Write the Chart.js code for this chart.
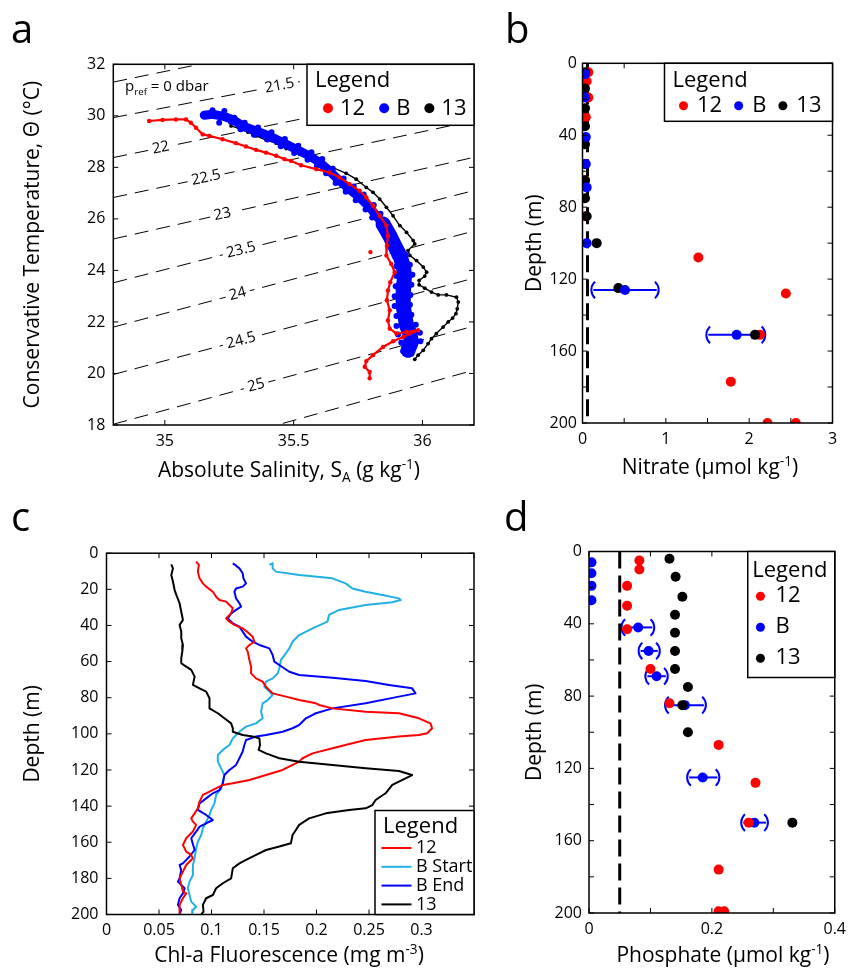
<!DOCTYPE html>
<html>
<head>
<meta charset="utf-8">
<title>T-S, nutrient and chlorophyll profiles</title>
<script src="https://cdn.jsdelivr.net/npm/chart.js@4.4.1/dist/chart.umd.min.js"></script>
<style>
  body { margin: 0; background: #fff; }
  #fig { position: relative; width: 853px; height: 973px; overflow: hidden; font-family: 'Open Sans', sans-serif; color: #000; }
  #fig canvas { position: absolute; left: 0; top: 0; }
  .txt { position: absolute; white-space: nowrap; line-height: 1; }
  .letter { font-size: 40px; }
  .xtitle { font-size: 21px; transform: translateX(-50%); }
  .txt sub, .txt sup { font-size: 0.65em; line-height: 0; }
  .pref { font-size: 15px; }
</style>
</head>
<body>
<div id="fig">
  <canvas id="chartTS" width="853" height="973"></canvas>
  <canvas id="chartNitrate" width="853" height="973"></canvas>
  <canvas id="chartChl" width="853" height="973"></canvas>
  <canvas id="chartPhos" width="853" height="973"></canvas>

  <div class="txt letter" style="left:11px;top:8px">a</div>
  <div class="txt letter" style="left:505px;top:8px">b</div>
  <div class="txt letter" style="left:11px;top:496px">c</div>
  <div class="txt letter" style="left:504px;top:496px">d</div>

  <div class="txt pref" style="left:125px;top:78px">p<sub>ref</sub> = 0 dbar</div>
  <div class="txt xtitle" style="left:289px;top:459px">Absolute Salinity, S<sub>A</sub> (g kg<sup>-1</sup>)</div>
  <div class="txt xtitle" style="left:710px;top:456px">Nitrate (μmol kg<sup>-1</sup>)</div>
  <div class="txt xtitle" style="left:289px;top:944px">Chl-a Fluorescence (mg m<sup>-3</sup>)</div>
  <div class="txt xtitle" style="left:723px;top:944px">Phosphate (μmol kg<sup>-1</sup>)</div>
</div>

<script>
const FONT = "'Open Sans', sans-serif";
const FIG_W = 853, FIG_H = 973;

// ---------- a: T-S diagram ----------
const salLimits = [34.8, 36.2];
const tempLimits = [18, 32];
const salTicks = [35, 35.5, 36];
const tempTicks = [18, 20, 22, 24, 26, 28, 30, 32];

// isopycnals (sigma0), temperature where each meets the left and right salinity limits
const sigmaValues = [21, 21.5, 22, 22.5, 23, 23.5, 24, 24.5, 25, 25.5];
const sigmaTempLeft = [31.31, 29.93, 28.38, 26.83, 25.22, 23.52, 21.80, 19.96, 18.03, 16.23];
const sigmaTempRight = [34.20, 32.63, 31.26, 29.81, 28.39, 27.10, 25.53, 23.70, 21.84, 20.13];
const sigmaLabelSal = [null, 35.445, 34.984, 35.16, 35.224, 35.296, 35.283, 35.296, 35.354, null];
const sigmaLabelTemp = [null, 31.17, 28.76, 27.60, 26.18, 24.79, 23.09, 21.28, 19.54, null];

const ts12Sal = [34.939, 34.991, 35.043, 35.082, 35.101, 35.121, 35.147, 35.173, 35.224, 35.276, 35.315, 35.354, 35.393, 35.432, 35.464, 35.490, 35.529, 35.588, 35.639, 35.678, 35.717, 35.756, 35.782, 35.808, 35.834, 35.860, 35.866, 35.862, 35.860, 35.879, 35.892, 35.875, 35.866, 35.862, 35.873, 35.866, 35.873, 35.899, 35.938, 35.983, 35.925, 35.886, 35.847, 35.808, 35.782, 35.776, 35.795, 35.795];
const ts12Temp = [29.80, 29.84, 29.86, 29.86, 29.73, 29.54, 29.28, 29.22, 29.09, 28.94, 28.81, 28.68, 28.57, 28.45, 28.32, 28.25, 28.08, 27.93, 27.80, 27.61, 27.35, 27.09, 26.83, 26.51, 26.12, 25.74, 25.35, 24.96, 24.58, 24.25, 23.93, 23.54, 23.22, 22.84, 22.45, 22.06, 21.74, 21.55, 21.61, 21.68, 21.42, 21.25, 21.03, 20.71, 20.48, 20.26, 20.06, 19.81];
const ts12StraySal = [35.798];
const ts12StrayTemp = [24.71];

// cast B: centre of the dense band (upper, narrower part and lower, wider part) ...
const tsBUpperSal = [35.153, 35.185, 35.224, 35.263, 35.302, 35.354, 35.406, 35.458, 35.510, 35.562, 35.601, 35.639, 35.678, 35.717, 35.756, 35.795, 35.821, 35.847];
const tsBUpperTemp = [30.02, 30.06, 29.99, 29.86, 29.61, 29.41, 29.22, 28.96, 28.70, 28.44, 28.19, 27.86, 27.48, 27.15, 26.83, 26.45, 26.12, 25.80];
const tsBLowerSal = [35.847, 35.873, 35.892, 35.912, 35.925, 35.931, 35.927, 35.925, 35.925, 35.931, 35.938, 35.951, 35.957, 35.944];
const tsBLowerTemp = [25.80, 25.35, 24.96, 24.58, 24.19, 23.80, 23.42, 23.03, 22.64, 22.26, 21.87, 21.55, 21.22, 20.90];
// ... and samples along its ragged edges
const tsBEdgeSal = [35.153, 35.185, 35.211, 35.231, 35.257, 35.270, 35.294, 35.310, 35.346, 35.362, 35.398, 35.414, 35.450, 35.466, 35.502, 35.518, 35.554, 35.569, 35.590, 35.611, 35.626, 35.652, 35.663, 35.694, 35.702, 35.733, 35.741, 35.772, 35.779, 35.811, 35.805, 35.837, 35.831, 35.862, 35.857, 35.888, 35.877, 35.908, 35.892, 35.935, 35.899, 35.951, 35.899, 35.961, 35.896, 35.957, 35.892, 35.953, 35.892, 35.951, 35.899, 35.957, 35.899, 35.974, 35.905, 35.990, 35.918, 35.992, 35.925, 35.957];
const tsBEdgeTemp = [29.99, 30.22, 29.73, 30.19, 29.76, 29.93, 29.48, 29.73, 29.27, 29.55, 29.08, 29.36, 28.82, 29.10, 28.56, 28.84, 28.30, 28.59, 28.06, 28.32, 27.77, 27.95, 27.39, 27.57, 27.05, 27.26, 26.72, 26.95, 26.36, 26.54, 26.05, 26.20, 25.74, 25.87, 25.31, 25.39, 24.94, 24.99, 24.55, 24.60, 24.16, 24.22, 23.78, 23.83, 23.39, 23.44, 23.00, 23.05, 22.62, 22.67, 22.23, 22.28, 21.84, 21.89, 21.51, 21.58, 21.20, 21.25, 20.86, 20.77];

const ts13Sal = [35.257, 35.289, 35.322, 35.354, 35.393, 35.432, 35.471, 35.523, 35.562, 35.601, 35.652, 35.704, 35.743, 35.782, 35.808, 35.834, 35.860, 35.886, 35.912, 35.938, 35.964, 35.970, 35.944, 35.951, 35.977, 36.003, 36.016, 36.009, 35.987, 35.987, 36.009, 36.035, 36.061, 36.093, 36.132, 36.139, 36.135, 36.130, 36.117, 36.100, 36.080, 36.054, 36.035, 36.022, 36.003, 35.983, 35.970];
const ts13Temp = [29.61, 29.50, 29.37, 29.22, 29.06, 28.94, 28.73, 28.51, 28.34, 28.19, 27.99, 27.77, 27.54, 27.22, 27.03, 26.77, 26.45, 26.12, 25.74, 25.48, 25.16, 25.03, 24.77, 24.58, 24.38, 24.13, 23.93, 23.78, 23.61, 23.44, 23.31, 23.16, 23.05, 23.05, 22.96, 22.77, 22.51, 22.32, 22.15, 22.00, 21.80, 21.55, 21.35, 21.16, 20.90, 20.71, 20.55];

// ---------- shared depth axis ----------
const depthLimits = [0, 200];
const depthTicks = [0, 20, 40, 60, 80, 100, 120, 140, 160, 180, 200];
const depthLabelsEvery40 = [0, 40, 80, 120, 160, 200];

// ---------- b: nitrate ----------
const nitrateLimits = [0, 3];
const nitrateTicks = [0, 0.5, 1, 1.5, 2, 2.5, 3];
const nitrateLabels = [0, 1, 2, 3];
const nitrateDetection = 0.06;
const nit12Depth = [5, 10, 19, 30, 42, 65, 85, 108, 128, 151, 177, 200, 200];
const nit12Val = [0.07, 0.05, 0.07, 0.04, 0.03, 0.03, 0.03, 1.39, 2.44, 2.13, 1.78, 2.22, 2.56];
const nitBDepth = [6, 19, 41, 56, 69, 100, 126, 151];
const nitBVal = [0.03, 0.03, 0.04, 0.04, 0.05, 0.05, 0.51, 1.85];
const nitBLo = [null, null, null, null, null, null, 0.13, 1.51];
const nitBHi = [null, null, null, null, null, null, 0.89, 2.17];
const nit13Depth = [5, 14, 25, 35, 45, 56, 65, 75, 85, 100, 125, 151];
const nit13Val = [0.03, 0.03, 0.03, 0.03, 0.03, 0.03, 0.03, 0.03, 0.05, 0.17, 0.43, 2.07];

// ---------- c: chl-a fluorescence ----------
const chlLimits = [0, 0.35];
const chlTicks = [0, 0.05, 0.1, 0.15, 0.2, 0.25, 0.3, 0.35];
const chlLabels = [0, 0.05, 0.1, 0.15, 0.2, 0.25, 0.3];
const chl12Val = [0.0854, 0.0880, 0.0870, 0.0886, 0.0918, 0.0949, 0.1013, 0.1044, 0.1076, 0.1139, 0.1171, 0.1203, 0.1187, 0.1155, 0.1139, 0.1171, 0.1218, 0.1297, 0.1345, 0.1392, 0.1408, 0.1361, 0.1329, 0.1345, 0.1361, 0.1377, 0.1377, 0.1424, 0.1487, 0.1519, 0.1582, 0.1709, 0.1835, 0.1994, 0.2025, 0.2152, 0.2468, 0.2785, 0.2975, 0.3085, 0.3101, 0.3054, 0.2975, 0.2785, 0.2468, 0.2342, 0.2152, 0.1962, 0.1867, 0.1835, 0.1677, 0.1519, 0.1361, 0.1203, 0.1108, 0.0981, 0.0918, 0.0886, 0.0870, 0.0839, 0.0807, 0.0823, 0.0854, 0.0823, 0.0759, 0.0728, 0.0759, 0.0807, 0.0823, 0.0759, 0.0728, 0.0696, 0.0712, 0.0728, 0.0759, 0.0728, 0.0696, 0.0696];
const chl12Depth = [4.7, 6.5, 10.2, 13.9, 16.7, 18.5, 21.3, 24.1, 25.9, 26.8, 28.7, 30.5, 33.3, 35.1, 36.1, 37.9, 39.7, 41.6, 43.8, 46.2, 49.0, 50.8, 52.7, 54.5, 59.1, 62.8, 66.5, 69.3, 71.1, 73.9, 77.6, 79.4, 81.3, 83.1, 84.0, 85.9, 87.7, 88.6, 91.4, 94.2, 96.9, 99.7, 100.6, 101.5, 103.4, 105.2, 108.0, 110.8, 113.5, 115.4, 120.0, 122.8, 125.5, 127.4, 128.3, 132.0, 133.8, 137.5, 141.2, 144.0, 146.8, 148.6, 150.4, 154.1, 157.8, 161.5, 165.2, 167.0, 168.9, 172.6, 176.3, 180.0, 183.6, 187.3, 188.3, 191.0, 194.7, 199.9];
const chlBStartVal = [0.1551, 0.1582, 0.1582, 0.1614, 0.1835, 0.2152, 0.2278, 0.2342, 0.2468, 0.2627, 0.2785, 0.2801, 0.2722, 0.2468, 0.2215, 0.2120, 0.2104, 0.1962, 0.1835, 0.1772, 0.1741, 0.1709, 0.1661, 0.1646, 0.1630, 0.1582, 0.1519, 0.1503, 0.1551, 0.1582, 0.1535, 0.1487, 0.1472, 0.1487, 0.1424, 0.1329, 0.1266, 0.1203, 0.1171, 0.1108, 0.1060, 0.1060, 0.1092, 0.1123, 0.1108, 0.1092, 0.1044, 0.1028, 0.0997, 0.0981, 0.0949, 0.0918, 0.0902, 0.0870, 0.0854, 0.0839, 0.0823, 0.0823, 0.0791, 0.0775, 0.0791, 0.0807, 0.0854, 0.0823, 0.0816];
const chlBStartDepth = [6.5, 5.6, 8.4, 10.2, 12.1, 13.9, 16.7, 19.5, 21.3, 23.1, 25.0, 25.9, 27.2, 28.7, 31.4, 34.2, 37.9, 41.6, 45.3, 49.0, 52.7, 55.4, 59.1, 63.7, 66.5, 69.3, 71.1, 73.9, 76.6, 78.5, 81.3, 83.1, 87.7, 91.4, 94.2, 96.0, 98.8, 102.5, 106.2, 108.9, 111.7, 115.4, 119.1, 122.8, 126.5, 130.2, 133.8, 138.5, 142.1, 144.9, 148.6, 152.3, 156.0, 159.7, 163.4, 168.9, 172.6, 178.1, 181.8, 185.5, 189.2, 192.9, 195.7, 197.5, 199.9];
const chlBEndVal = [0.1203, 0.1234, 0.1266, 0.1297, 0.1304, 0.1329, 0.1297, 0.1234, 0.1218, 0.1234, 0.1266, 0.1282, 0.1234, 0.1187, 0.1155, 0.1203, 0.1266, 0.1297, 0.1329, 0.1392, 0.1456, 0.1551, 0.1582, 0.1598, 0.1646, 0.1741, 0.1835, 0.2152, 0.2468, 0.2690, 0.2911, 0.2943, 0.2785, 0.2468, 0.2152, 0.1994, 0.1899, 0.1835, 0.1772, 0.1677, 0.1519, 0.1424, 0.1329, 0.1313, 0.1297, 0.1266, 0.1234, 0.1171, 0.1123, 0.1108, 0.1076, 0.1013, 0.0949, 0.0886, 0.0870, 0.0949, 0.1013, 0.0949, 0.0886, 0.0854, 0.0807, 0.0839, 0.0791, 0.0728, 0.0696, 0.0712, 0.0696, 0.0680, 0.0744, 0.0728, 0.0696, 0.0680, 0.0712, 0.0696];
const chlBEndDepth = [5.6, 6.9, 8.4, 11.1, 13.9, 16.7, 18.5, 19.5, 21.3, 25.0, 27.7, 29.6, 31.4, 33.3, 36.1, 38.8, 40.7, 43.4, 46.2, 49.0, 50.8, 52.7, 56.3, 60.0, 61.9, 65.6, 67.4, 68.9, 70.7, 72.9, 74.8, 77.6, 79.4, 83.1, 85.9, 88.6, 91.4, 95.1, 96.9, 98.8, 100.6, 101.5, 103.4, 106.2, 109.8, 113.5, 117.2, 120.0, 122.8, 127.4, 131.1, 132.9, 135.7, 138.5, 142.1, 144.9, 147.7, 149.5, 151.4, 154.1, 157.8, 164.3, 167.9, 171.7, 172.6, 175.4, 180.0, 181.8, 185.5, 188.3, 191.0, 194.7, 197.5, 199.9];
const chl13Val = [0.0617, 0.0633, 0.0617, 0.0633, 0.0649, 0.0665, 0.0696, 0.0712, 0.0728, 0.0696, 0.0712, 0.0712, 0.0728, 0.0722, 0.0712, 0.0712, 0.0759, 0.0807, 0.0839, 0.0823, 0.0886, 0.0949, 0.0981, 0.0981, 0.1060, 0.1123, 0.1187, 0.1203, 0.1203, 0.1297, 0.1392, 0.1456, 0.1462, 0.1449, 0.1519, 0.1646, 0.1835, 0.2152, 0.2468, 0.2785, 0.2911, 0.2848, 0.2722, 0.2658, 0.2563, 0.2532, 0.2468, 0.2310, 0.2089, 0.1930, 0.1835, 0.1804, 0.1772, 0.1756, 0.1646, 0.1519, 0.1424, 0.1329, 0.1266, 0.1203, 0.1187, 0.1108, 0.1044, 0.1013, 0.0949, 0.0918, 0.0924, 0.0902];
const chl13Depth = [6.2, 8.4, 12.1, 15.8, 20.4, 23.1, 27.7, 32.4, 37.0, 39.7, 43.4, 47.1, 50.8, 54.5, 58.2, 60.9, 62.8, 64.6, 68.3, 72.9, 74.8, 76.6, 80.3, 85.9, 88.6, 91.4, 94.2, 96.9, 98.8, 100.6, 101.5, 102.5, 106.2, 108.9, 110.8, 113.5, 115.4, 117.2, 119.1, 120.6, 122.8, 124.6, 128.3, 132.9, 136.6, 139.4, 141.2, 142.1, 144.0, 146.8, 150.4, 153.2, 156.0, 160.6, 162.4, 164.3, 167.0, 169.8, 171.7, 174.4, 180.0, 182.7, 185.5, 189.2, 191.0, 194.7, 198.4, 199.9];

// ---------- d: phosphate ----------
const phosLimits = [0, 0.4];
const phosTicks = [0, 0.1, 0.2, 0.3, 0.4];
const phosLabels = [0, 0.2, 0.4];
const phosDetection = 0.05;
const phos12Depth = [5, 10, 19, 30, 43, 65, 84, 107, 128, 150, 176, 199, 199];
const phos12Val = [0.082, 0.082, 0.062, 0.062, 0.062, 0.100, 0.131, 0.211, 0.271, 0.260, 0.211, 0.211, 0.220];
const phosBDepth = [6, 12, 19, 27, 42, 55, 69, 85, 125, 150];
const phosBVal = [0.004, 0.004, 0.004, 0.004, 0.080, 0.097, 0.110, 0.156, 0.185, 0.269];
const phosBLo = [null, null, null, null, 0.056, 0.084, 0.095, 0.127, 0.163, 0.251];
const phosBHi = [null, null, null, null, 0.103, 0.112, 0.125, 0.187, 0.209, 0.288];
const phos13Depth = [4, 14, 25, 35, 45, 55, 65, 75, 85, 100, 150];
const phos13Val = [0.131, 0.141, 0.152, 0.140, 0.140, 0.140, 0.140, 0.161, 0.152, 0.161, 0.331];

const RED = '#ff0000', BLUE = '#0000ff', LIGHTBLUE = '#1fb1e6', BLACK = '#000000';

// ---------- helpers ----------
function pts(xs, ys) {
    const n = Math.min(xs.length, ys.length);
    const out = [];
    for (let i = 0; i < n; i++) out.push({ x: xs[i], y: ys[i] });
    return out;
}
function fmt(v) { return String(parseFloat(v.toFixed(3))); }

// chart area is fixed per panel; padding + axis widths reproduce it on a full-size canvas
function frame(area, titleX) {
    const half = 21 * 1.2 / 2;
    const padLeft = titleX - half;
    return {
        padding: { left: padLeft, top: area.t, right: FIG_W - area.r, bottom: FIG_H - area.b - 30 },
        yWidth: area.l - padLeft
    };
}

function axis(o) {
    return {
        type: 'linear', min: o.lim[0], max: o.lim[1], reverse: !!o.reverse,
        grid: { display: false, drawTicks: false }, border: { display: false },
        afterBuildTicks: s => { s.ticks = o.ticks.map(v => ({ value: v })); },
        afterFit: o.fit,
        ticks: {
            autoSkip: false, maxRotation: 0, minRotation: 0, padding: o.pad, color: '#000',
            font: { family: FONT, size: 16 },
            callback: v => o.labels.some(l => Math.abs(l - v) < 1e-9) ? fmt(v) : ''
        },
        title: o.title
            ? { display: true, text: o.title, color: '#000', font: { family: FONT, size: 21 }, padding: 0 }
            : { display: false }
    };
}

// MATLAB-like box with inward ticks on all four sides
const inwardTicks = {
    id: 'inwardTicks',
    afterDraw(chart) {
        const { ctx, chartArea: a, scales } = chart;
        const len = 5;
        ctx.save();
        ctx.strokeStyle = '#000';
        ctx.lineWidth = 1;
        ctx.beginPath();
        scales.x.ticks.forEach(t => {
            const px = scales.x.getPixelForValue(t.value);
            ctx.moveTo(px, a.bottom); ctx.lineTo(px, a.bottom - len);
            ctx.moveTo(px, a.top); ctx.lineTo(px, a.top + len);
        });
        scales.y.ticks.forEach(t => {
            const py = scales.y.getPixelForValue(t.value);
            ctx.moveTo(a.left, py); ctx.lineTo(a.left + len, py);
            ctx.moveTo(a.right, py); ctx.lineTo(a.right - len, py);
        });
        ctx.stroke();
        ctx.lineWidth = 1.5;
        ctx.strokeRect(a.left, a.top, a.right - a.left, a.bottom - a.top);
        ctx.restore();
    }
};

// horizontal error bars with bracket ends, drawn under the points
const errorBars = {
    id: 'errorBars',
    beforeDatasetsDraw(chart) {
        const { ctx, scales: { x, y } } = chart;
        chart.data.datasets.forEach(ds => {
            if (!ds.errLo) return;
            ctx.save();
            ctx.strokeStyle = ds.backgroundColor;
            ctx.lineWidth = 2;
            ds.data.forEach((p, i) => {
                const lo = ds.errLo[i], hi = ds.errHi[i];
                if (lo == null || hi == null) return;
                const yp = y.getPixelForValue(p.y);
                const xl = x.getPixelForValue(lo), xr = x.getPixelForValue(hi);
                const r = 11, ang = 0.85;
                ctx.beginPath(); ctx.moveTo(xl, yp); ctx.lineTo(xr, yp); ctx.stroke();
                ctx.beginPath(); ctx.arc(xl + r - 2, yp, r, Math.PI - ang, Math.PI + ang); ctx.stroke();
                ctx.beginPath(); ctx.arc(xr - r + 2, yp, r, -ang, ang); ctx.stroke();
            });
            ctx.restore();
        });
    }
};

// sigma labels sitting on the isopycnals
const contourLabels = {
    id: 'contourLabels',
    afterDatasetsDraw(chart) {
        const { ctx, scales: { x, y } } = chart;
        ctx.save();
        ctx.font = '15px ' + FONT;
        ctx.textAlign = 'center';
        ctx.textBaseline = 'middle';
        sigmaValues.forEach((sig, i) => {
            if (sigmaLabelSal[i] == null) return;
            const x1 = x.getPixelForValue(salLimits[0]), y1 = y.getPixelForValue(sigmaTempLeft[i]);
            const x2 = x.getPixelForValue(salLimits[1]), y2 = y.getPixelForValue(sigmaTempRight[i]);
            const px = x.getPixelForValue(sigmaLabelSal[i]), py = y.getPixelForValue(sigmaLabelTemp[i]);
            const txt = String(sig);
            ctx.save();
            ctx.translate(px, py);
            ctx.rotate(Math.atan2(y2 - y1, x2 - x1));
            const w = ctx.measureText(txt).width + 8;
            ctx.fillStyle = '#fff';
            ctx.fillRect(-w / 2, -6, w, 12);
            ctx.fillStyle = '#000';
            ctx.fillText(txt, 0, 0);
            ctx.restore();
        });
        ctx.restore();
    }
};

// boxed "Legend" like the MATLAB figure
const boxLegend = {
    id: 'boxLegend',
    afterDraw(chart, args, b) {
        if (!b || !b.w) return;
        const { ctx, chartArea: a } = chart;
        const x0 = a.right - b.w;
        const y0 = b.bottom ? a.bottom - b.h : a.top;
        const items = chart.data.datasets
            .filter(d => d.legendRank != null)
            .sort((p, q) => p.legendRank - q.legendRank);
        ctx.save();
        ctx.fillStyle = '#fff';
        ctx.fillRect(x0, y0, b.w, b.h);
        ctx.strokeStyle = '#000';
        ctx.lineWidth = 1.5;
        ctx.strokeRect(x0, y0, b.w, b.h);
        ctx.fillStyle = '#000';
        ctx.textBaseline = 'middle';
        ctx.textAlign = 'left';
        ctx.font = '22px ' + FONT;
        ctx.fillText('Legend', x0 + b.titleX, y0 + b.titleY);
        ctx.font = b.itemSize + 'px ' + FONT;
        let x = x0 + b.startX;
        items.forEach((d, i) => {
            if (b.layout === 'row') {
                const y = y0 + b.rowY;
                ctx.fillStyle = d.backgroundColor;
                ctx.beginPath(); ctx.arc(x + b.r, y, b.r, 0, Math.PI * 2); ctx.fill();
                const tx = x + 2 * b.r + b.gap;
                ctx.fillStyle = '#000';
                ctx.fillText(d.label, tx, y);
                x = tx + ctx.measureText(d.label).width + b.itemGap;
            } else {
                const y = y0 + b.rowY + i * b.rowStep;
                if (b.kind === 'line') {
                    ctx.strokeStyle = d.borderColor;
                    ctx.lineWidth = 2;
                    ctx.beginPath(); ctx.moveTo(x0 + b.markX, y); ctx.lineTo(x0 + b.markX + b.lineLen, y); ctx.stroke();
                } else {
                    ctx.fillStyle = d.backgroundColor;
                    ctx.beginPath(); ctx.arc(x0 + b.markX, y, b.r, 0, Math.PI * 2); ctx.fill();
                }
                ctx.fillStyle = '#000';
                ctx.fillText(d.label, x0 + b.textX, y);
            }
        });
        ctx.restore();
    }
};

function baseOptions(fr, legendBox) {
    return {
        responsive: false,
        animation: false,
        layout: { padding: fr.padding },
        plugins: { legend: { display: false }, tooltip: { enabled: false }, boxLegend: legendBox },
        elements: { line: { tension: 0 } }
    };
}

function dots(label, xs, ys, color, order, rank, extra) {
    return Object.assign({
        label, data: pts(xs, ys), backgroundColor: color, borderColor: color,
        pointRadius: 5, pointBorderWidth: 0, showLine: false, order, legendRank: rank
    }, extra || {});
}

// ---------- panel a ----------
(function () {
    const fr = frame({ l: 113.3, t: 64.3, r: 474, b: 425 }, 33);
    const isopycnals = sigmaValues.map((s, i) => ({
        label: 'sigma ' + s,
        data: [{ x: salLimits[0], y: sigmaTempLeft[i] }, { x: salLimits[1], y: sigmaTempRight[i] }],
        showLine: true, borderColor: '#000', borderWidth: 1, borderDash: [14, 8],
        pointRadius: 0, order: 10
    }));
    const band = (label, xs, ys, width, rank) => ({
        label, data: pts(xs, ys), showLine: true, borderColor: BLUE, backgroundColor: BLUE,
        borderWidth: width, borderJoinStyle: 'round', borderCapStyle: 'round',
        pointRadius: 0, order: 1, legendRank: rank
    });
    const opts = baseOptions(fr, {
        w: 167, h: 61, titleX: 8, titleY: 16, layout: 'row', rowY: 44,
        startX: 16, r: 5, gap: 7, itemGap: 14, itemSize: 22
    });
    opts.scales = {
        x: axis({ lim: salLimits, ticks: salTicks, labels: salTicks, pad: 7, fit: s => { s.height = 30; } }),
        y: axis({ lim: tempLimits, ticks: tempTicks, labels: tempTicks, pad: 8,
            title: 'Conservative Temperature, Θ (°C)', fit: s => { s.width = fr.yWidth; } })
    };
    new Chart(document.getElementById('chartTS'), {
        type: 'scatter',
        data: {
            datasets: isopycnals.concat([
                { label: '12', data: pts(ts12Sal, ts12Temp), showLine: true, borderColor: RED, backgroundColor: RED,
                  borderWidth: 2.2, borderJoinStyle: 'round', borderCapStyle: 'round',
                  pointRadius: 2.2, pointBorderWidth: 0, order: 0, legendRank: 0 },
                { label: '12 stray', data: pts(ts12StraySal, ts12StrayTemp), backgroundColor: RED,
                  pointRadius: 2.2, pointBorderWidth: 0, order: 0 },
                band('B', tsBUpperSal, tsBUpperTemp, 9, 1),
                band('B deep', tsBLowerSal, tsBLowerTemp, 15, null),
                { label: 'B edge', data: pts(tsBEdgeSal, tsBEdgeTemp), backgroundColor: BLUE,
                  pointRadius: 3, pointBorderWidth: 0, order: 1 },
                { label: '13', data: pts(ts13Sal, ts13Temp), showLine: true, borderColor: BLACK, backgroundColor: BLACK,
                  borderWidth: 1.4, borderJoinStyle: 'round',
                  pointRadius: 1.9, pointBorderWidth: 0, order: 2, legendRank: 2 }
            ])
        },
        options: opts,
        plugins: [contourLabels, inwardTicks, boxLegend]
    });
})();

// ---------- panel b ----------
(function () {
    const fr = frame({ l: 582.5, t: 63.3, r: 832.5, b: 423 }, 535);
    const opts = baseOptions(fr, {
        w: 168, h: 58, titleX: 8, titleY: 17, layout: 'row', rowY: 42.5,
        startX: 14.5, r: 4.5, gap: 9, itemGap: 12, itemSize: 22
    });
    opts.scales = {
        x: axis({ lim: nitrateLimits, ticks: nitrateTicks, labels: nitrateLabels, pad: 7, fit: s => { s.height = 30; } }),
        y: axis({ lim: depthLimits, ticks: depthTicks, labels: depthLabelsEvery40, pad: 5.5, reverse: true,
            title: 'Depth (m)', fit: s => { s.width = fr.yWidth; } })
    };
    new Chart(document.getElementById('chartNitrate'), {
        type: 'scatter',
        data: {
            datasets: [
                { label: 'detection', data: [{ x: nitrateDetection, y: depthLimits[0] }, { x: nitrateDetection, y: depthLimits[1] }],
                  showLine: true, borderColor: '#000', borderWidth: 3, borderDash: [17, 7], pointRadius: 0, order: 5 },
                dots('12', nit12Val, nit12Depth, RED, 2, 0),
                dots('B', nitBVal, nitBDepth, BLUE, 0, 1, { errLo: nitBLo, errHi: nitBHi }),
                dots('13', nit13Val, nit13Depth, BLACK, 1, 2)
            ]
        },
        options: opts,
        plugins: [errorBars, inwardTicks, boxLegend]
    });
})();

// ---------- panel c ----------
(function () {
    const fr = frame({ l: 106.5, t: 553.2, r: 474, b: 914.5 }, 33);
    const opts = baseOptions(fr, {
        w: 99, h: 104, bottom: true, titleX: 8, titleY: 16, layout: 'col', kind: 'line',
        rowY: 37.5, rowStep: 18.8, markX: 6.5, lineLen: 30, textX: 41, itemSize: 18
    });
    opts.scales = {
        x: axis({ lim: chlLimits, ticks: chlTicks, labels: chlLabels, pad: 6, fit: s => { s.height = 30; } }),
        y: axis({ lim: depthLimits, ticks: depthTicks, labels: depthTicks, pad: 8, reverse: true,
            title: 'Depth (m)', fit: s => { s.width = fr.yWidth; } })
    };
    const prof = (label, xs, ys, color, order, rank) => ({
        label, data: pts(xs, ys), showLine: true, borderColor: color, backgroundColor: color,
        borderWidth: 2, borderJoinStyle: 'round', pointRadius: 0, order, legendRank: rank
    });
    new Chart(document.getElementById('chartChl'), {
        type: 'scatter',
        data: {
            datasets: [
                prof('12', chl12Val, chl12Depth, RED, 1, 0),
                prof('B Start', chlBStartVal, chlBStartDepth, LIGHTBLUE, 3, 1),
                prof('B End', chlBEndVal, chlBEndDepth, BLUE, 2, 2),
                prof('13', chl13Val, chl13Depth, BLACK, 0, 3)
            ]
        },
        options: opts,
        plugins: [inwardTicks, boxLegend]
    });
})();

// ---------- panel d ----------
(function () {
    const fr = frame({ l: 589, t: 551.5, r: 839.3, b: 913 }, 535);
    const opts = baseOptions(fr, {
        w: 87, h: 126, titleX: 4.5, titleY: 19, layout: 'col', rowY: 44.7, rowStep: 31,
        markX: 12.7, r: 4.5, textX: 27.7, itemSize: 22
    });
    opts.scales = {
        x: axis({ lim: phosLimits, ticks: phosTicks, labels: phosLabels, pad: 7, fit: s => { s.height = 30; } }),
        y: axis({ lim: depthLimits, ticks: depthTicks, labels: depthLabelsEvery40, pad: 7, reverse: true,
            title: 'Depth (m)', fit: s => { s.width = fr.yWidth; } })
    };
    new Chart(document.getElementById('chartPhos'), {
        type: 'scatter',
        data: {
            datasets: [
                { label: 'detection', data: [{ x: phosDetection, y: depthLimits[0] }, { x: phosDetection, y: depthLimits[1] }],
                  showLine: true, borderColor: '#000', borderWidth: 3, borderDash: [17, 7], pointRadius: 0, order: 5 },
                dots('12', phos12Val, phos12Depth, RED, 0, 0),
                dots('B', phosBVal, phosBDepth, BLUE, 2, 1, { errLo: phosBLo, errHi: phosBHi }),
                dots('13', phos13Val, phos13Depth, BLACK, 1, 2)
            ]
        },
        options: opts,
        plugins: [errorBars, inwardTicks, boxLegend]
    });
})();
</script>
</body>
</html>
